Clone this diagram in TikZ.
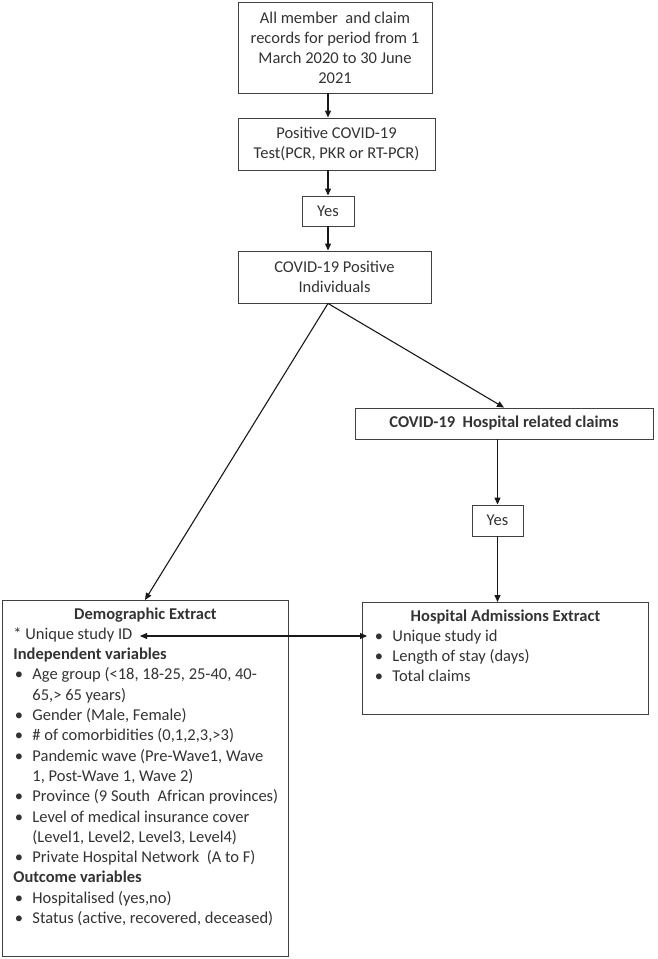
\documentclass[tikz,border=0pt]{standalone}
\usepackage{fontspec}
\setmainfont{Carlito}
\usetikzlibrary{arrows.meta,positioning}

\tikzset{
  flowbox/.style={draw=black!75, line width=0.9pt, text=black!80, align=center, inner sep=1pt, font=\fontsize{16.5}{20}\selectfont},
  listbox/.style={draw=black!75, line width=0.9pt, text=black!80, inner xsep=5.5pt, inner ysep=7pt, anchor=north west, font=\fontsize{16.5}{20.3}\selectfont},
  arr/.style={draw=black!90, line width=1.1pt, -{Triangle[length=7pt,width=6pt]}},
}
\newcommand{\bitem}[1]{\par\hangindent=19pt\hangafter=1\noindent\makebox[19pt][l]{\hspace{1.5pt}\textbullet}#1}

\begin{document}
\begin{tikzpicture}[x=1pt,y=-1pt]
\useasboundingbox (0,0) rectangle (657,959);
% main flow
\node[flowbox, minimum width=194pt, minimum height=91pt] (rec) at (335,47.5) {All member\ \ and claim\\records for period from 1\\March 2020 to 30 June\\2021};
\node[flowbox, minimum width=197pt, minimum height=52pt] (pos) at (336.5,144) {Positive COVID-19\\Test(PCR, PKR or RT-PCR)};
\node[flowbox, minimum width=52pt, minimum height=30pt] (yes1) at (328,211) {Yes};
\node[flowbox, minimum width=193pt, minimum height=52pt] (ind) at (334.5,277) {COVID-19 Positive\\Individuals};
% hospital branch
\node[flowbox, minimum width=298pt, minimum height=31pt, font=\fontsize{16.5}{20}\selectfont\bfseries] (claims) at (504,423.5) {COVID-19\ \ Hospital related claims};
\node[flowbox, minimum width=51pt, minimum height=31pt] (yes2) at (497.5,520.5) {Yes};
\node[listbox] (hosp) at (362,602) {\begin{minipage}[t][98pt][t]{275pt}
{\centering\textbf{Hospital Admissions Extract}\par}
\raggedright\leftskip=5.5pt
\bitem{Unique\ study id}
\bitem{Length of stay (days)}
\bitem{Total claims}
\end{minipage}};
% extracts
\node[listbox] (demo) at (2,600) {\begin{minipage}[t][342pt][t]{275pt}
{\centering\textbf{Demographic Extract}\par}
\raggedright\leftskip=5.5pt
* Unique study ID\par
\textbf{Independent variables}\par
\bitem{Age group (<18, 18-25, 25-40, 40-\newline 65,> 65 years)}
\bitem{Gender (Male, Female)}
\bitem{\# of comorbidities (0,1,2,3,>3)}
\bitem{Pandemic wave (Pre-Wave1, Wave\newline 1, Post-Wave 1, Wave 2)}
\bitem{Province (9 South\ \ African provinces)}
\bitem{Level of medical insurance cover\newline (Level1, Level2, Level3, Level4)}
\bitem{Private Hospital Network\ \ (A to F)}
\par\textbf{Outcome variables}\par
\bitem{Hospitalised (yes,no)}
\bitem{Status (active, recovered, deceased)}
\end{minipage}};
% connectors
\coordinate (split) at (ind.south -| yes1.center);
\coordinate (uid) at ([xshift=138pt,yshift=-36pt]demo.north west);
\draw[arr] (rec.south -| yes1.center) -- (pos.north -| yes1.center);
\draw[arr] (pos.south -| yes1.center) -- (yes1.north);
\draw[arr] (yes1.south) -- (yes1.south |- ind.north);
\draw[arr] (split) -- ([xshift=143pt]demo.north west);
\draw[arr] (split) -- (claims.north);
\draw[arr] (claims.south -| yes2.center) -- (yes2.north);
\draw[arr] (yes2.south) -- (yes2.south |- hosp.north);
\draw[arr, {Triangle[length=7pt,width=6pt]}-{Triangle[length=7pt,width=6pt]}] (uid) -- ([xshift=5pt]uid -| hosp.west);
\end{tikzpicture}
\end{document}
